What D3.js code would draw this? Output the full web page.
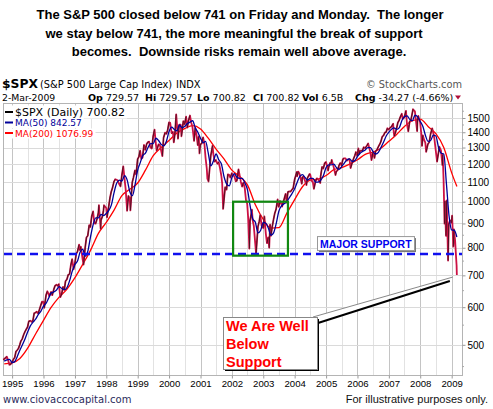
<!DOCTYPE html>
<html>
<head>
<meta charset="utf-8">
<script src="https://cdn.jsdelivr.net/npm/d3@7"></script>
<style>
  body { margin: 0; background: #fff; }
  svg { display: block; }
  text { font-family: "Liberation Sans", Arial, sans-serif; }
  .vd { font-family: "DejaVu Sans", Verdana, sans-serif; }
</style>
</head>
<body>
<div id="container"></div>
<script>
// ---- data ----
var headline = [
  "The S&P 500 closed below 741 on Friday and Monday.  The longer",
  "we stay below 741, the more meaningful the break of support",
  "becomes.  Downside risks remain well above average."
];

var quoteLabels = ["Op", "Hi", "Lo", "Cl", "Vol", "Chg"];
var quoteValues = ["729.57", "729.57", "700.82", "700.82", "6.5B", "-34.27 (-4.66%)"];

var legendNames = ["$SPX (Daily) 700.82", "MA(50) 842.57", "MA(200) 1076.99"];

var yearTicks = [1995, 1996, 1997, 1998, 1999, 2000, 2001, 2002, 2003, 2004, 2005, 2006, 2007, 2008, 2009];
var priceTicks = [500, 600, 700, 800, 900, 1000, 1100, 1200, 1300, 1400, 1500];

var supportLevel = 776;
var boxDates = ["2002-01-15", "2003-10-15"];
var boxValues = [770, 1000];

// $SPX closes (sampled about twice a month)
var spx = [
  ["1994-09-20",465],["1994-10-14",469],["1994-10-31",472],["1994-11-15",465],["1994-11-30",454],["1994-12-15",455],["1994-12-30",459],
  ["1995-01-13",465],["1995-01-31",470],["1995-02-15",484],["1995-02-28",487],["1995-03-15",491],["1995-03-31",500],["1995-04-13",509],["1995-04-28",514],["1995-05-15",525],["1995-05-31",533],["1995-06-15",539],["1995-06-30",545],["1995-07-14",560],["1995-07-31",562],["1995-08-15",559],["1995-08-31",562],["1995-09-15",583],["1995-09-29",584],["1995-10-13",587],["1995-10-31",582],["1995-11-15",593],["1995-11-30",605],["1995-12-14",616],["1995-12-29",616],
  ["1996-01-10",598],["1996-01-31",636],["1996-02-15",648],["1996-02-29",640],["1996-03-08",633],["1996-03-29",646],["1996-04-12",636],["1996-04-30",654],["1996-05-15",666],["1996-05-31",669],["1996-06-14",665],["1996-06-28",671],["1996-07-15",630],["1996-07-31",640],["1996-08-15",662],["1996-08-30",652],["1996-09-13",680],["1996-09-30",687],["1996-10-15",702],["1996-10-31",705],["1996-11-15",737],["1996-11-29",757],["1996-12-05",745],["1996-12-16",721],["1996-12-31",741],
  ["1997-01-15",776],["1997-01-31",786],["1997-02-18",812],["1997-02-28",791],["1997-03-11",804],["1997-03-31",757],["1997-04-11",737],["1997-04-30",801],["1997-05-15",841],["1997-05-30",848],["1997-06-16",893],["1997-06-30",885],["1997-07-15",932],["1997-07-31",954],["1997-08-15",900],["1997-08-29",899],["1997-09-15",920],["1997-09-30",947],["1997-10-07",983],["1997-10-27",877],["1997-10-31",915],["1997-11-14",928],["1997-11-28",955],["1997-12-05",983],["1997-12-31",970],
  ["1998-01-09",927],["1998-01-30",980],["1998-02-13",1020],["1998-02-27",1049],["1998-03-13",1068],["1998-03-31",1102],["1998-04-15",1115],["1998-04-30",1112],["1998-05-15",1108],["1998-05-29",1091],["1998-06-15",1077],["1998-06-30",1134],["1998-07-17",1187],["1998-07-31",1121],["1998-08-14",1063],["1998-08-31",957],["1998-09-15",1029],["1998-09-30",1017],["1998-10-08",959],["1998-10-30",1099],["1998-11-13",1125],["1998-11-30",1164],["1998-12-14",1141],["1998-12-31",1229],
  ["1999-01-15",1243],["1999-01-29",1280],["1999-02-12",1230],["1999-02-26",1238],["1999-03-15",1316],["1999-03-31",1286],["1999-04-15",1322],["1999-04-30",1335],["1999-05-14",1337],["1999-05-28",1302],["1999-06-14",1294],["1999-06-30",1373],["1999-07-16",1418],["1999-07-30",1329],["1999-08-10",1281],["1999-08-31",1320],["1999-09-15",1318],["1999-09-30",1283],["1999-10-15",1247],["1999-10-29",1363],["1999-11-15",1397],["1999-11-30",1389],["1999-12-15",1413],["1999-12-31",1469],
  ["2000-01-14",1465],["2000-01-31",1394],["2000-02-15",1402],["2000-02-25",1333],["2000-03-10",1395],["2000-03-24",1527],["2000-04-14",1357],["2000-04-28",1452],["2000-05-15",1452],["2000-05-24",1373],["2000-06-15",1478],["2000-06-30",1455],["2000-07-17",1510],["2000-07-31",1431],["2000-08-15",1484],["2000-08-31",1518],["2000-09-15",1466],["2000-09-29",1437],["2000-10-18",1342],["2000-10-31",1429],["2000-11-15",1383],["2000-11-30",1315],["2000-12-12",1372],["2000-12-20",1264],["2000-12-29",1320],
  ["2001-01-15",1326],["2001-01-31",1366],["2001-02-15",1326],["2001-02-28",1240],["2001-03-15",1173],["2001-03-22",1118],["2001-04-04",1103],["2001-04-30",1249],["2001-05-21",1312],["2001-05-31",1256],["2001-06-15",1214],["2001-06-29",1224],["2001-07-16",1202],["2001-07-31",1211],["2001-08-15",1178],["2001-08-31",1134],["2001-09-10",1093],["2001-09-21",966],["2001-10-15",1073],["2001-10-31",1060],["2001-11-15",1142],["2001-11-30",1139],["2001-12-14",1124],["2001-12-31",1148],
  ["2002-01-15",1138],["2002-01-31",1130],["2002-02-15",1104],["2002-02-28",1107],["2002-03-19",1170],["2002-03-28",1147],["2002-04-15",1102],["2002-04-30",1076],["2002-05-15",1097],["2002-05-31",1067],["2002-06-14",1007],["2002-06-28",990],["2002-07-10",920],["2002-07-23",797],["2002-07-31",912],["2002-08-22",962],["2002-08-30",916],["2002-09-13",889],["2002-09-30",815],["2002-10-09",777],["2002-10-31",886],["2002-11-15",909],["2002-11-27",938],["2002-12-13",890],["2002-12-31",880],
  ["2003-01-14",931],["2003-01-31",856],["2003-02-13",818],["2003-02-28",841],["2003-03-11",800],["2003-03-21",895],["2003-03-31",848],["2003-04-15",885],["2003-04-30",917],["2003-05-15",946],["2003-05-30",964],["2003-06-17",1011],["2003-06-30",975],["2003-07-14",1004],["2003-07-31",990],["2003-08-08",977],["2003-08-29",1008],["2003-09-18",1039],["2003-09-30",996],["2003-10-15",1049],["2003-10-31",1051],["2003-11-14",1050],["2003-11-28",1058],["2003-12-15",1068],["2003-12-31",1112],
  ["2004-01-26",1155],["2004-01-30",1131],["2004-02-11",1157],["2004-02-27",1145],["2004-03-24",1091],["2004-03-31",1126],["2004-04-13",1130],["2004-04-30",1107],["2004-05-17",1084],["2004-05-28",1121],["2004-06-23",1144],["2004-06-30",1141],["2004-07-15",1107],["2004-07-30",1102],["2004-08-12",1064],["2004-08-31",1104],["2004-09-15",1120],["2004-09-30",1115],["2004-10-25",1095],["2004-10-29",1130],["2004-11-15",1184],["2004-11-30",1174],["2004-12-15",1205],["2004-12-31",1212],
  ["2005-01-24",1163],["2005-01-31",1181],["2005-02-15",1206],["2005-02-28",1204],["2005-03-07",1225],["2005-03-31",1181],["2005-04-20",1138],["2005-04-29",1157],["2005-05-16",1165],["2005-05-31",1192],["2005-06-15",1206],["2005-06-30",1191],["2005-07-15",1228],["2005-07-29",1234],["2005-08-15",1233],["2005-08-31",1220],["2005-09-15",1228],["2005-09-30",1229],["2005-10-13",1177],["2005-10-31",1207],["2005-11-15",1230],["2005-11-30",1249],["2005-12-14",1272],["2005-12-30",1248],
  ["2006-01-11",1294],["2006-01-20",1261],["2006-01-31",1280],["2006-02-15",1280],["2006-02-28",1281],["2006-03-15",1303],["2006-03-31",1295],["2006-04-20",1312],["2006-05-05",1326],["2006-05-31",1270],["2006-06-13",1223],["2006-06-30",1270],["2006-07-18",1236],["2006-07-31",1277],["2006-08-15",1285],["2006-08-31",1304],["2006-09-15",1319],["2006-09-29",1336],["2006-10-16",1370],["2006-10-31",1378],["2006-11-15",1397],["2006-11-30",1401],["2006-12-15",1427],["2006-12-29",1418],
  ["2007-01-15",1431],["2007-01-31",1438],["2007-02-20",1459],["2007-02-27",1400],["2007-03-05",1374],["2007-03-30",1421],["2007-04-16",1468],["2007-04-30",1482],["2007-05-15",1509],["2007-05-31",1531],["2007-06-12",1493],["2007-06-29",1503],["2007-07-19",1553],["2007-07-31",1455],["2007-08-15",1406],["2007-08-31",1474],["2007-09-14",1484],["2007-09-28",1527],["2007-10-09",1565],["2007-10-31",1549],["2007-11-26",1407],["2007-11-30",1481],["2007-12-10",1515],["2007-12-31",1468],
  ["2008-01-15",1380],["2008-01-22",1310],["2008-01-31",1379],["2008-02-15",1349],["2008-02-29",1331],["2008-03-10",1273],["2008-03-31",1323],["2008-04-15",1334],["2008-04-30",1386],["2008-05-19",1427],["2008-05-30",1400],["2008-06-13",1360],["2008-06-30",1280],["2008-07-15",1214],["2008-07-31",1267],["2008-08-11",1305],["2008-08-29",1283],["2008-09-15",1193],["2008-09-19",1255],["2008-09-29",1106],["2008-10-10",899],["2008-10-13",1003],["2008-10-27",848],["2008-11-04",1006],["2008-11-20",752],["2008-11-28",896],["2008-12-08",909],["2008-12-16",913],["2008-12-31",903],
  ["2009-01-06",935],["2009-01-20",805],["2009-01-28",874],["2009-02-10",827],["2009-02-20",770],["2009-02-27",735],["2009-03-02",701]
];

// 50-day moving average, one value per month starting Oct 1994
var ma50Start = "1994-10-01";
var ma50 = [
  462, 465, 466,
  459, 461, 472, 487, 500, 515, 532, 548, 558, 566, 579, 588,
  603, 612, 627, 643, 646, 652, 663, 657, 653, 660, 683, 715,
  738, 751, 783, 795, 768, 788, 843, 895, 925, 925, 940, 935,
  945, 960, 985, 1045, 1093, 1110, 1105, 1135, 1110, 1050, 1030, 1085,
  1165, 1210, 1250, 1265, 1300, 1325, 1325, 1360, 1345, 1320, 1310, 1340,
  1405, 1435, 1420, 1410, 1450, 1430, 1440, 1460, 1470, 1480, 1430, 1400,
  1360, 1330, 1340, 1265, 1190, 1220, 1260, 1225, 1200, 1130, 1090, 1080,
  1125, 1145, 1125, 1120, 1120, 1095, 1060, 980, 920, 905, 860, 870,
  905, 900, 880, 850, 860, 900, 955, 980, 990, 1000, 1020, 1040,
  1065, 1100, 1130, 1140, 1125, 1110, 1120, 1120, 1100, 1100, 1110, 1135,
  1180, 1195, 1195, 1200, 1180, 1170, 1185, 1205, 1225, 1230, 1215, 1220,
  1245, 1265, 1275, 1285, 1300, 1300, 1275, 1260, 1270, 1300, 1335, 1375,
  1400, 1420, 1430, 1420, 1430, 1480, 1510, 1515, 1490, 1480, 1520, 1510,
  1475, 1440, 1380, 1340, 1345, 1380, 1375, 1300, 1265, 1260, 1090, 935,
  872, 870, 843
];

// 200-day moving average, read quarterly
var ma200 = [
  ["1994-10-01",456],["1995-01-01",458],["1995-04-01",468],["1995-07-01",492],["1995-10-01",527],
  ["1996-01-01",563],["1996-04-01",600],["1996-07-01",630],["1996-10-01",655],
  ["1997-01-01",692],["1997-04-01",738],["1997-07-01",790],["1997-10-01",858],
  ["1998-01-01",905],["1998-04-01",960],["1998-07-01",1030],["1998-10-01",1062],
  ["1999-01-01",1095],["1999-04-01",1165],["1999-07-01",1250],["1999-10-01",1300],
  ["2000-01-01",1345],["2000-04-01",1395],["2000-07-01",1425],["2000-10-01",1445],
  ["2001-01-01",1422],["2001-04-01",1360],["2001-07-01",1290],["2001-10-01",1230],
  ["2002-01-01",1165],["2002-04-01",1130],["2002-07-01",1085],["2002-10-01",985],
  ["2003-01-01",918],["2003-04-01",880],["2003-07-01",882],["2003-10-01",945],
  ["2004-01-01",1010],["2004-04-01",1075],["2004-07-01",1110],["2004-10-01",1115],
  ["2005-01-01",1135],["2005-04-01",1168],["2005-07-01",1180],["2005-10-01",1200],
  ["2006-01-01",1225],["2006-04-01",1258],["2006-07-01",1272],["2006-10-01",1295],
  ["2007-01-01",1340],["2007-04-01",1385],["2007-07-01",1440],["2007-10-01",1480],
  ["2008-01-01",1492],["2008-04-01",1440],["2008-07-01",1390],["2008-10-01",1300],
  ["2009-01-01",1150],["2009-03-02",1077]
];

// ---- setup ----
var w = 493;
var h = 409;
var parse = d3.timeParse("%Y-%m-%d");

var plotL = 3, plotR = 462, plotT = 103, plotB = 375;

var x = d3.scaleTime()
  .domain([parse("1994-09-17"), parse("2009-05-01")])
  .range([plotL, plotR]);
var y = d3.scaleLog()
  .domain([432, 1613])
  .range([plotB, plotT]);

var svg = d3.select("#container")
  .append("svg")
  .attr("width", w)
  .attr("height", h);

// headline
svg.append("g")
  .selectAll("text")
  .data(headline)
  .enter()
  .append("text")
  .attr("x", (d, i) => [240, 234, 239][i])
  .attr("y", (d, i) => 19.3 + i * 18.4)
  .attr("text-anchor", "middle")
  .style("white-space", "pre")
  .style("font-size", "13px")
  .style("font-weight", "bold")
  .text((d) => d);

// header rows
svg.append("text").attr("class", "vd").attr("x", 2).attr("y", 88)
  .style("font-size", "12.3px").style("font-weight", "bold").text("$SPX");
svg.append("text").attr("class", "vd").attr("x", 40).attr("y", 88)
  .style("font-size", "9.8px").text("(S&P 500 Large Cap Index)");
svg.append("text").attr("class", "vd").attr("x", 176).attr("y", 88)
  .style("font-size", "9.8px").text("INDX");
svg.append("text").attr("class", "vd").attr("x", 462).attr("y", 88)
  .attr("text-anchor", "end").style("font-size", "9.8px").style("fill", "#555")
  .text("\u00a9 StockCharts.com");

svg.append("text").attr("class", "vd").attr("x", 2).attr("y", 100.5)
  .style("font-size", "9.3px").text("2-Mar-2009");

var quoteX = [88, 145, 197, 253, 302, 355];
var quote = svg.append("g").style("font-size", "9.5px");
quoteLabels.forEach((lab, i) => {
  var t = quote.append("text").attr("x", quoteX[i]).attr("y", 100.5).attr("class", "vd");
  t.append("tspan").style("font-weight", "bold").text(lab);
  t.append("tspan").text("\u00a0" + quoteValues[i]);
});
svg.append("path")
  .attr("d", "M455,95.5L461,95.5L458,99.5Z")
  .attr("fill", "#b0103a");

// plot frame & grid
var plot = svg.append("g");
plot.append("rect")
  .attr("x", plotL).attr("y", plotT)
  .attr("width", plotR - plotL).attr("height", plotB - plotT)
  .attr("fill", "#fff");

var halfYears = d3.timeMonth.every(6).range(parse("1995-01-01"), parse("2009-02-01"));
plot.selectAll(".vgrid")
  .data(halfYears)
  .enter()
  .append("line")
  .attr("x1", (d) => Math.round(x(d)) + 0.5).attr("x2", (d) => Math.round(x(d)) + 0.5)
  .attr("y1", plotT).attr("y2", plotB)
  .attr("stroke", (d) => (d.getMonth() === 0 ? "#c4c4c4" : "#e2e2e2"))
  .attr("stroke-width", 1);

plot.selectAll(".hgrid")
  .data(priceTicks)
  .enter()
  .append("line")
  .attr("x1", plotL).attr("x2", plotR)
  .attr("y1", (d) => Math.round(y(d)) + 0.5).attr("y2", (d) => Math.round(y(d)) + 0.5)
  .attr("stroke", "#dadada");

plot.append("rect")
  .attr("x", plotL + 0.5).attr("y", plotT + 0.5)
  .attr("width", plotR - plotL).attr("height", plotB - plotT)
  .attr("fill", "none")
  .attr("stroke", "#b4b4b4");

// axes
var yAxis = d3.axisRight(y).tickValues(priceTicks).tickFormat(d3.format("d")).tickSize(3).tickPadding(2);
var gy = svg.append("g").attr("transform", "translate(" + (plotR + 0.5) + ",0)").call(yAxis);
gy.select(".domain").remove();
gy.selectAll("line").attr("stroke", "#999");
gy.selectAll("text").style("font-size", "10px").style("font-family", "Liberation Sans, Arial").attr("fill", "#000");

var minorTicks = d3.range(450, 1600, 100);
svg.append("g").selectAll("line")
  .data(minorTicks)
  .enter()
  .append("line")
  .attr("x1", plotR).attr("x2", plotR + 2)
  .attr("y1", (d) => y(d)).attr("y2", (d) => y(d))
  .attr("stroke", "#aaa");

var yearDates = yearTicks.map((d) => new Date(d, 0, 1));
var xAxis = d3.axisBottom(x).tickValues(yearDates).tickFormat(d3.timeFormat("%Y")).tickSize(3).tickPadding(2);
var gx = svg.append("g").attr("transform", "translate(0," + (plotB + 0.5) + ")").call(xAxis);
gx.select(".domain").remove();
gx.selectAll("line").attr("stroke", "#999");
gx.selectAll("text").style("font-size", "9.6px").style("font-family", "Liberation Sans, Arial").attr("fill", "#000");

// ---- series ----
var spxData = spx.map((d) => ({ date: parse(d[0]), value: d[1] }));
var ma50Data = ma50.map((v, i) => ({ date: d3.timeMonth.offset(parse(ma50Start), i), value: v }));
ma50Data[ma50Data.length - 1].date = parse("2009-03-02");
var ma200Data = ma200.map((d) => ({ date: parse(d[0]), value: d[1] }));

var line = d3.line().x((d) => x(d.date)).y((d) => y(d.value));
var smooth = d3.line().x((d) => x(d.date)).y((d) => y(d.value)).curve(d3.curveMonotoneX);

plot.append("path")
  .datum(ma200Data)
  .attr("d", smooth)
  .attr("fill", "none")
  .attr("stroke", "#ff0000")
  .attr("stroke-width", 1.3);

plot.append("path")
  .datum(spxData)
  .attr("d", line)
  .attr("fill", "none")
  .attr("stroke", "#cc1144")
  .attr("stroke-width", 1.8)
  .attr("stroke-linejoin", "round");

// up moves drawn black on top, like daily up bars
var ups = d3.pairs(spxData).filter((p) => p[1].value > p[0].value);
plot.selectAll(".up")
  .data(ups)
  .enter()
  .append("line")
  .attr("x1", (p) => x(p[0].date)).attr("y1", (p) => y(p[0].value))
  .attr("x2", (p) => x(p[1].date)).attr("y2", (p) => y(p[1].value))
  .attr("stroke", "#111")
  .attr("stroke-width", 0.7);

plot.append("path")
  .datum(ma50Data)
  .attr("d", smooth)
  .attr("fill", "none")
  .attr("stroke", "#000099")
  .attr("stroke-width", 1.3);

// legend
var legendColors = ["#000", "#000099", "#ff0000"];
var legendSizes = ["11px", "9px", "9px"];
var legendY = [115.5, 126, 136.5];
var leg = svg.append("g");
legendNames.forEach((name, i) => {
  var bg = leg.append("rect").attr("fill", "#fff");
  var t = leg.append("text").attr("class", "vd")
    .attr("x", 15).attr("y", legendY[i])
    .style("font-size", legendSizes[i])
    .attr("fill", legendColors[i])
    .text(name);
  var b = t.node().getBBox();
  bg.attr("x", 4).attr("y", b.y).attr("width", b.x + b.width - 4 + 2).attr("height", b.height);
  leg.append("line")
    .attr("x1", 5).attr("x2", 13)
    .attr("y1", legendY[i] - 3.5).attr("y2", legendY[i] - 3.5)
    .attr("stroke", legendColors[i]).attr("stroke-width", 2);
});

// ---- annotations ----
var sy = y(supportLevel);
svg.append("line")
  .attr("x1", plotL + 1).attr("x2", plotR)
  .attr("y1", sy).attr("y2", sy)
  .attr("stroke", "#1010ee")
  .attr("stroke-width", 2.6)
  .attr("stroke-dasharray", "8,5");

svg.append("rect")
  .attr("x", x(parse(boxDates[0]))).attr("y", y(boxValues[1]))
  .attr("width", x(parse(boxDates[1])) - x(parse(boxDates[0])))
  .attr("height", y(boxValues[0]) - y(boxValues[1]))
  .attr("fill", "none")
  .attr("stroke", "#118811")
  .attr("stroke-width", 2.2);

// MAJOR SUPPORT label
var lb = { x: 317, y: sy - 18, w: 97, h: 14 };
svg.append("rect").attr("x", lb.x + 2).attr("y", lb.y + 2).attr("width", lb.w).attr("height", lb.h).attr("fill", "#777");
svg.append("rect").attr("x", lb.x + 0.5).attr("y", lb.y + 0.5).attr("width", lb.w).attr("height", lb.h)
  .attr("fill", "#fff").attr("stroke", "#999");
svg.append("text")
  .attr("x", lb.x + 3).attr("y", lb.y + 11.5)
  .style("font-size", "10.5px").style("font-weight", "bold")
  .attr("fill", "#0000ee")
  .text("MAJOR SUPPORT");

// callout pointing at the last close
var last = spxData[spxData.length - 1];
var tip = [x(last.date) - 4, y(last.value) + 2];
var cb = { x: 223, y: 317, w: 94, h: 52 };
svg.append("path")
  .attr("d", "M" + (cb.x + cb.w - 4) + "," + cb.y + "L" + tip[0] + "," + tip[1] + "L" + (cb.x + cb.w) + "," + (cb.y + 6) + "Z")
  .attr("fill", "#fff");
svg.append("line")
  .attr("x1", cb.x + cb.w - 4).attr("y1", cb.y)
  .attr("x2", tip[0]).attr("y2", tip[1])
  .attr("stroke", "#888").attr("stroke-width", 1);
svg.append("line")
  .attr("x1", cb.x + cb.w + 1).attr("y1", cb.y + 6)
  .attr("x2", tip[0] - 3).attr("y2", tip[1] + 4)
  .attr("stroke", "#000").attr("stroke-width", 2);
svg.append("rect").attr("x", cb.x + 2).attr("y", cb.y + 2).attr("width", cb.w).attr("height", cb.h).attr("fill", "#000");
svg.append("rect").attr("x", cb.x + 0.5).attr("y", cb.y + 0.5).attr("width", cb.w).attr("height", cb.h)
  .attr("fill", "#fff").attr("stroke", "#888");
["We Are Well", "Below", "Support"].forEach((s, i) => {
  svg.append("text")
    .attr("x", cb.x + 3).attr("y", cb.y + 13.5 + i * 18)
    .style("font-size", "14.5px").style("font-weight", "bold")
    .attr("fill", "#ff0000")
    .text(s);
});

// footer
svg.append("text").attr("class", "vd").attr("x", 3).attr("y", 403)
  .style("font-size", "10px").attr("fill", "#2b2b5c")
  .text("www.ciovaccocapital.com");
svg.append("text").attr("x", 488).attr("y", 403)
  .attr("text-anchor", "end").style("font-size", "11px").attr("fill", "#111")
  .text("For illustrative purposes only.");
</script>
</body>
</html>
